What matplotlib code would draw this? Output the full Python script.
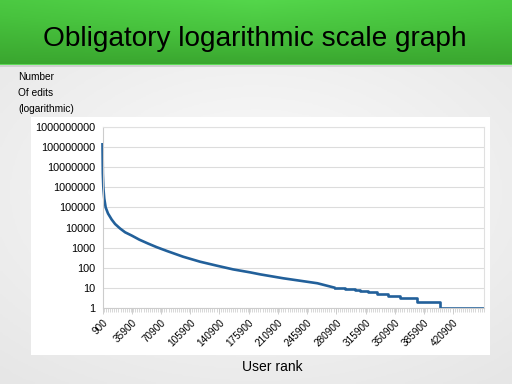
import numpy as np
import matplotlib.pyplot as plt
from matplotlib.colors import LinearSegmentedColormap
from matplotlib.patches import Rectangle
from matplotlib.ticker import FixedLocator, MultipleLocator

# smooth head of the curve (rank, edits)
head_rank = [900, 1300, 1900, 3000, 4700, 7500, 11900, 16000, 21900, 28000,
             35900, 45000, 55500, 66000, 78200, 97400, 117800, 138200, 157400,
             177800, 189800, 217400, 258200, 279800]
head_edits = [1.6e8, 5e6, 1e6, 2.8e5, 1e5, 5e4, 2.5e4, 1.5e4, 9000, 5800,
              4000, 2500, 1600, 1050, 680, 355, 200, 126, 83,
              59, 47, 30, 17, 10]

# integer steps in the tail
tail_rank = [279800, 291000, 303000, 309000, 318600, 329400, 342600, 357000,
             377400, 405000, 457700]
tail_edits = [10, 9, 8, 7, 6, 5, 4, 3, 2, 1, 1]

x_ticks = [900 + 35000 * i for i in range(13)]
y_ticks = [10 ** i for i in range(10)]

W, H = 512, 384
fig = plt.figure(figsize=(W / 100, H / 100), dpi=100)
plt.rcParams['font.family'] = ['Liberation Sans', 'DejaVu Sans']

# slide background
bg = fig.add_axes([0, 0, 1, 1])
bg.set_axis_off()
xx = np.linspace(-1, 1, 200)
yy = np.linspace(-1, 1, 150)
X, Y = np.meshgrid(xx, yy)
grad = np.sqrt((X / 1.2) ** 2 + (Y / 1.0) ** 2)
bg_cmap = LinearSegmentedColormap.from_list('bg', ['#fbfbfb', '#e6e6e6'])
bg.imshow(grad, cmap=bg_cmap, extent=[0, 1, 0, 1], aspect='auto', vmin=0, vmax=1.3)

# green title banner
ban_h = 65 / H
green = LinearSegmentedColormap.from_list('g', ['#3aa62f', '#48c33e', '#54d64b'])
gy = np.linspace(0, 1, 50)[:, None] * np.ones((1, 200))
gx = 1 - np.abs(np.linspace(-1, 1, 200))[None, :] * 0.35
bg.imshow(gy * gx, cmap=green, extent=[0, 1, 1 - ban_h, 1], aspect='auto',
          origin='lower', vmin=0, vmax=1)
bg.add_patch(Rectangle((0, 1 - ban_h - 2 / H), 1, 2 / H, color='#cfcfcf', lw=0))
bg.add_patch(Rectangle((0, 1 - ban_h), 1, 1.5 / H, color='#5ed957', lw=0))
bg.set_xlim(0, 1)
bg.set_ylim(0, 1)
fig.text(255 / W, 1 - 39 / H, 'Obligatory logarithmic scale graph',
         ha='center', va='center', fontsize=20.2, color='black')

# white chart panel
bg.add_patch(Rectangle((31 / W, 1 - 355 / H), (490 - 31) / W, (355 - 117) / H,
                       color='white', lw=0))

fig.text(18 / W, 1 - 77 / H, 'Number', fontsize=7.3, va='center')
fig.text(18 / W, 1 - 93 / H, 'Of edits', fontsize=7.3, va='center')
fig.text(18 / W, 1 - 109 / H, '(logarithmic)', fontsize=7.3, va='center')
fig.text(272 / W, 1 - 367 / H, 'User rank', fontsize=10, ha='center', va='center')

ax = fig.add_axes([102.5 / W, 1 - 308 / H, (484 - 102.5) / W, (308 - 127) / H])
ax.set_facecolor('white')
ax.plot(head_rank, head_edits, color='#22609a', lw=1.9, clip_on=False,
        solid_capstyle='butt', solid_joinstyle='round')
ax.step(tail_rank, tail_edits, where='post', color='#22609a', lw=1.9)
ax.set_yscale('log')
ax.set_ylim(1, 1e9)
ax.set_xlim(900, 457700)

ax.yaxis.set_major_locator(FixedLocator(y_ticks))
ax.yaxis.set_minor_locator(FixedLocator([]))
ax.set_yticklabels([str(v) for v in y_ticks], fontsize=7.8)
ax.set_xticks(x_ticks)
ax.set_xticklabels([str(v) for v in x_ticks], fontsize=7.2, rotation=45,
                   ha='right', rotation_mode='anchor')
ax.xaxis.set_minor_locator(MultipleLocator(2500))
ax.tick_params(axis='y', length=0, pad=5)
ax.tick_params(axis='x', which='major', length=4, color='#c8c8c8', width=0.6, pad=3)
ax.tick_params(axis='x', which='minor', length=3, color='#c8c8c8', width=0.5)
ax.grid(axis='y', color='#dcdcdc', lw=0.8)
for side in ['top', 'right']:
    ax.spines[side].set_color('#e0e0e0')
    ax.spines[side].set_linewidth(0.8)
ax.spines['left'].set_color('#cccccc')
ax.spines['bottom'].set_color('#cccccc')
ax.set_axisbelow(True)

fig.savefig('out.png', dpi=100)
